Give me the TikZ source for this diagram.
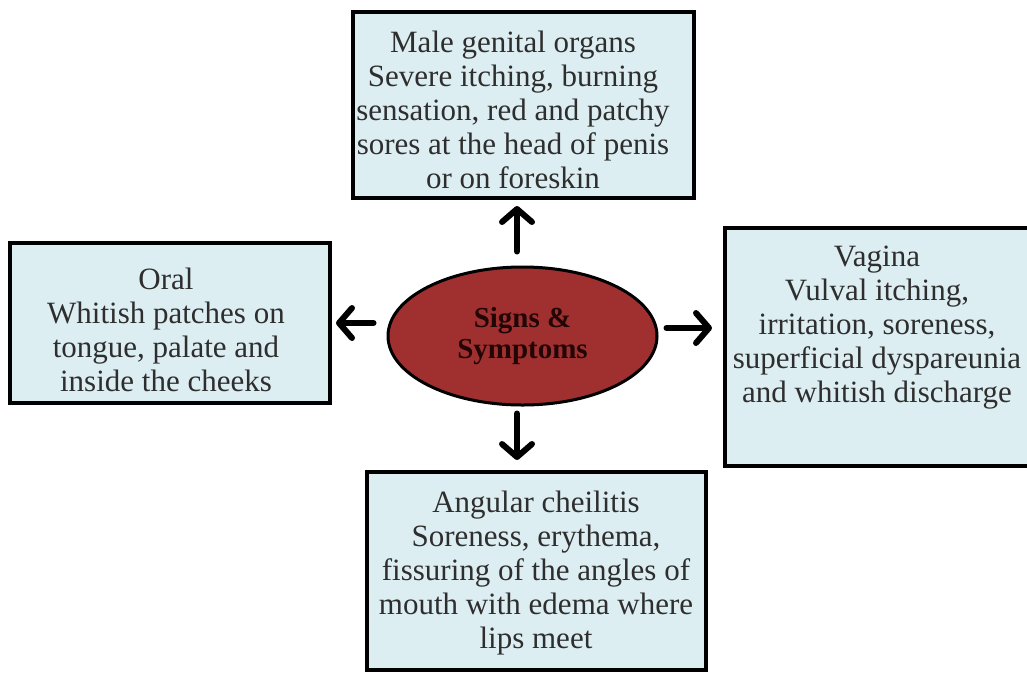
\documentclass[tikz,border=0pt]{standalone}
\usepackage{fontspec}
\setmainfont{Liberation Serif}
\usetikzlibrary{arrows.meta,shapes.geometric,calc}
\definecolor{boxfill}{HTML}{DDEEF3}
\definecolor{ellfill}{HTML}{A0302F}
\definecolor{txt}{HTML}{2E2E2E}
\definecolor{elltxt}{HTML}{220606}
\begin{document}
\begin{tikzpicture}[x=1pt,y=1pt,
  infobox/.style={draw=black, line width=4pt, fill=boxfill, inner sep=0pt},
  infotext/.style={text=txt, align=center, font=\fontsize{31}{34}\selectfont, inner sep=0pt, anchor=north},
  arr/.style={line width=6pt, line cap=round, -{Straight Barb[length=13pt,width=30pt,line join=round,line cap=round]}}]
\useasboundingbox (0,0) rectangle (1027,-673);

\node[infobox, minimum width=341pt, minimum height=186pt] (top) at (523.5,-105) {};
\node[infotext] (toptxt) at (513,-31) {Male genital organs\\Severe itching, burning\\sensation, red and patchy\\sores at the head of penis\\or on foreskin};

\node[infobox, minimum width=320pt, minimum height=160pt] (left) at (170,-323) {};
\node[infotext] (lefttxt) at (166,-268) {Oral\\Whitish patches on\\tongue, palate and\\inside the cheeks};

\node[infobox, minimum width=304pt, minimum height=238pt] (right) at (877,-347) {};
\node[infotext] (righttxt) at (877,-246) {Vagina\\Vulval itching,\\irritation, soreness,\\superficial dyspareunia\\and whitish discharge};

\node[infobox, minimum width=339pt, minimum height=198pt] (bottom) at (536.5,-571) {};
\node[infotext] (bottomtxt) at (536,-491) {Angular cheilitis\\Soreness, erythema,\\fissuring of the angles of\\mouth with edema where\\lips meet};

\node[ellipse, draw=black, line width=3pt, fill=ellfill, minimum width=269pt, minimum height=138pt, inner sep=0pt,
      text=elltxt, align=center, font=\fontsize{29}{31}\selectfont\bfseries] (ell) at (522.5,-336) {Signs \&\\Symptoms};

\draw[arr] ([shift={(-5.5pt,14pt)}]ell.north) -- ([shift={(-6.5pt,-6pt)}]top.south);
\draw[arr] ([shift={(-13pt,13pt)}]ell.west) -- ([shift={(4pt,0pt)}]left.east);
\draw[arr] ([shift={(8pt,8pt)}]ell.east) -- ([shift={(-11pt,19pt)}]right.west);
\draw[arr] ([shift={(-5.5pt,-7pt)}]ell.south) -- ([shift={(-19.5pt,10pt)}]bottom.north);
\end{tikzpicture}
\end{document}
